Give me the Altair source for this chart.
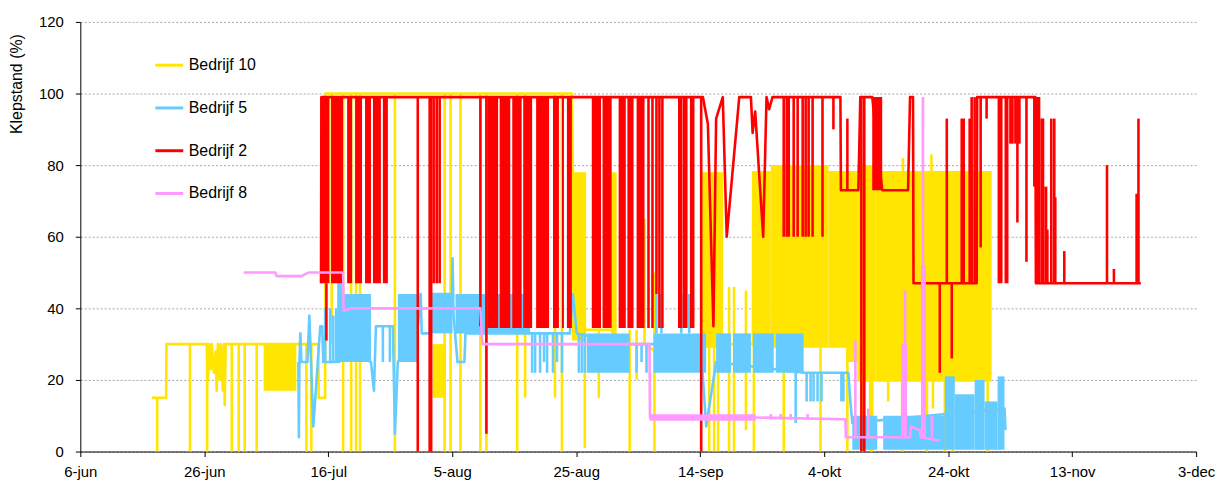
import json
import altair as alt
import pandas as pd

# ---------------- data ----------------
START = (2010, 6, 6)
END = (2010, 12, 3)
TICK_DATES = ["2010-06-06", "2010-06-26", "2010-07-16", "2010-08-05", "2010-08-25",
              "2010-09-14", "2010-10-04", "2010-10-24", "2010-11-13", "2010-12-03"]
MONTHS_NL = ["jan", "feb", "mrt", "apr", "mei", "jun", "jul", "aug", "sep", "okt", "nov", "dec"]
Y_TICKS = [0, 20, 40, 60, 80, 100, 120]
SERIES = ["Bedrijf 10", "Bedrijf 5", "Bedrijf 2", "Bedrijf 8"]
COLORS = ["#FFE500", "#66CCFF", "#FF0000", "#FF99FF"]

# (days since 6 June, valve position %)
B10_LINE = [(11.55, 15), (13.85, 15), (13.9, 30), (20.4, 30), (20.6, 20), (20.75, 30), (21.05, 23),
            (21.2, 30), (21.55, 22), (21.85, 28), (22.0, 17), (22.2, 30), (22.5, 20), (22.65, 30),
            (23.0, 17), (23.15, 30), (23.3, 13), (23.45, 30), (34.85, 30), (38.4, 30), (38.45, 15),
            (39.5, 15), (39.55, 100), (79.3, 100), (79.45, 78), (81.4, 34), (85.7, 34), (86.5, 30),
            (91.3, 30), (92.6, 28), (100.15, 30), (100.2, 78), (103.7, 30), (108.5, 30),
            (108.55, 78), (147.0, 78)]
# dense oscillation: (from day, to day, low %, high %)
B10_BANDS = [(29.57, 34.86, 17, 30), (56.84, 58.93, 15, 30), (79.30, 81.39, 31, 78),
             (85.72, 86.52, 30, 78), (100.16, 103.69, 29, 78), (108.50, 111.39, 29, 78),
             (111.39, 120.70, 29, 80), (120.70, 123.74, 29, 78), (123.74, 125.35, 25, 78),
             (125.35, 128.24, 19.5, 80), (128.24, 147.01, 19.5, 78)]
# short excursions: (day, low %, high %)
B10_DROPS = [(12.40, 0, 15), (17.70, 0, 30), (20.47, 0, 30), (24.43, 0, 30), (25.56, 0, 30),
             (26.52, 0, 30), (28.45, 0, 30), (36.47, 0, 30), (37.27, 0, 30), (40.56, 30, 100),
             (42.40, 0, 100), (43.69, 0, 100), (44.49, 0, 100), (45.13, 0, 100), (50.75, 0, 100),
             (58.77, 0, 100), (59.73, 0, 100), (61.33, 0, 100), (64.54, 0, 100), (65.51, 0, 100),
             (70.48, 0, 100), (71.76, 15, 100), (76.57, 15, 100), (77.70, 0, 100), (81.39, 1, 78),
             (83.64, 15, 34), (88.62, 0, 34), (89.74, 20, 34), (91.02, 30, 65), (92.62, 0, 50),
             (101.45, 0, 78), (102.25, 0, 78), (102.89, 0, 78), (104.65, 0, 46), (105.46, 0, 46),
             (107.38, 6, 45), (108.66, 0, 78), (113.47, 0, 78), (119.41, 0, 78), (123.74, 0, 78),
             (126.15, 0, 78), (127.43, 0, 78), (127.75, 0, 78), (130.32, 14, 78), (132.57, 0, 78),
             (132.7, 78, 82), (136.58, 0, 78), (137.3, 78, 83), (137.54, 12, 78), (139.46, 0, 78),
             (140.75, 0, 78), (146.37, 0, 78)]

B5_LINE = [(35.18, 25), (35.26, 4), (35.34, 25), (35.50, 33), (35.67, 25), (36.63, 25), (36.95, 38),
           (37.59, 7), (38.71, 35), (39.03, 35), (39.19, 25), (41.60, 25), (41.68, 58), (41.76, 25),
           (41.92, 58), (42.08, 30), (46.89, 25), (47.37, 17), (47.69, 35), (50.43, 35), (50.75, 5),
           (51.23, 25), (54.44, 35), (54.92, 44), (55.08, 33), (56.36, 33), (56.52, 44), (59.95, 44),
           (60.05, 54), (60.21, 38), (60.85, 25), (61.97, 25), (62.13, 33), (72.57, 33), (78.98, 33),
           (79.46, 44), (80.10, 33), (88.62, 30), (92.46, 30), (100.16, 28), (100.96, 7),
           (102.57, 25), (116.69, 22), (123.90, 22), (124.22, 14), (124.54, 8), (149.09, 12),
           (149.25, 6)]
B5_BANDS = [(41.60, 46.89, 25, 44), (51.23, 54.44, 25, 44), (56.52, 60.05, 33, 44),
            (60.53, 72.57, 33, 44), (81.71, 88.62, 22, 33), (92.46, 100.96, 22, 33),
            (102.57, 104.97, 22, 33), (105.29, 108.18, 22, 33), (108.50, 111.87, 22, 33),
            (112.19, 116.69, 22, 33), (124.54, 128.56, 0.5, 10), (129.52, 139.46, 0.5, 10),
            (139.46, 141.07, 0.5, 21), (141.07, 144.27, 0.5, 16), (144.27, 145.88, 0.5, 20),
            (145.88, 147.97, 0.5, 14), (147.97, 149.09, 0.5, 21)]
B5_DROPS = [(39.51, 25, 40), (40.31, 25, 40), (40.80, 25, 38), (41.28, 25, 40), (48.81, 25, 35),
            (49.94, 25, 35), (72.89, 22, 33), (73.37, 22, 33), (74.17, 22, 33), (74.81, 25, 33),
            (75.30, 22, 33), (76.25, 22, 33), (76.90, 25, 33), (77.70, 22, 33), (80.43, 22, 33),
            (80.91, 22, 33), (81.39, 22, 33), (89.74, 22, 30), (90.54, 25, 30), (91.34, 22, 30),
            (92.94, 33, 44), (93.74, 33, 44), (96.95, 33, 44), (98.23, 33, 44), (115.40, 8, 22),
            (117.17, 14, 22), (117.81, 14, 22), (118.29, 14, 22), (118.93, 14, 22),
            (119.57, 14, 22), (122.78, 14, 22), (123.10, 14, 22)]

B2_LINE = [(38.83, 47), (38.90, 99), (98.86, 99), (100.43, 99), (101.24, 91.5), (102.13, 35),
           (102.57, 93), (103.64, 99), (104.28, 60), (106.30, 99), (108.18, 99), (108.46, 89),
           (108.87, 95), (110.16, 60), (110.70, 99), (111.12, 95.6), (111.66, 99), (122.62, 99),
           (122.70, 73), (125.51, 73), (125.83, 99), (127.75, 99), (129.36, 73), (133.53, 73),
           (133.85, 99), (134.33, 99), (134.41, 47), (144.60, 47), (144.68, 99), (154.07, 99),
           (154.15, 47), (171.08, 47)]
B2_BANDS = [(38.71, 40.20, 47, 99), (40.45, 42.40, 47, 99), (43.04, 43.85, 47, 99),
            (44.33, 45.45, 47, 99), (45.93, 46.89, 47, 99), (47.21, 48.49, 47, 99),
            (48.81, 49.62, 47, 99), (65.67, 67.40, 34.5, 99), (67.65, 69.36, 34.5, 99),
            (69.68, 71.20, 34.5, 99), (71.45, 72.89, 34.5, 99), (73.53, 75.62, 34.5, 99),
            (76.25, 77.21, 34.5, 99), (77.70, 78.02, 34.5, 99), (78.50, 79.30, 34.5, 99),
            (82.51, 84.00, 34.5, 99), (84.25, 85.72, 34.5, 99), (86.84, 88.00, 34.5, 99),
            (88.25, 89.25, 34.5, 99), (89.74, 91.02, 34.5, 99),
            (127.75, 129.36, 73, 99), (147.97, 148.77, 47, 99), (149.09, 149.73, 47, 99),
            (154.07, 154.87, 47, 99), (154.87, 155.51, 47, 93), (155.51, 156.00, 47, 74)]
B2_DROPS = [(39.70, 31, 47), (54.44, 0, 99), (56.36, 0, 99), (56.60, 0, 99), (57.00, 47, 99),
            (57.49, 47, 99), (57.97, 47, 99), (64.54, 35, 99), (65.51, 5, 99), (91.66, 34.5, 99),
            (92.30, 34.5, 99), (92.94, 44, 99), (93.42, 34.5, 99), (93.90, 34.5, 99),
            (96.63, 34.5, 99), (96.95, 34.5, 99), (97.43, 34.5, 99), (97.75, 34.5, 99),
            (98.55, 34.5, 99), (98.87, 34.5, 99), (100.16, 0, 99), (113.47, 60, 99),
            (113.96, 60, 99), (114.28, 60, 99), (115.08, 60, 99), (115.72, 60, 99),
            (116.53, 60, 99), (117.01, 60, 99), (117.49, 60, 99), (118.13, 60, 99),
            (119.73, 60, 99), (121.49, 90, 99), (123.74, 73, 93), (126.00, 0, 99), (126.47, 0, 99),
            (138.65, 22, 47), (139.78, 47, 93), (140.58, 26, 47), (142.19, 47, 93),
            (142.51, 47, 93), (143.47, 47, 93), (143.79, 47, 99), (144.27, 47, 99),
            (145.24, 57, 99), (146.20, 93, 99), (150.05, 86, 99), (150.37, 86, 99),
            (150.85, 86, 99), (151.17, 64, 99), (151.49, 86, 99), (152.63, 53, 99),
            (153.90, 74, 99), (156.00, 47, 62), (156.64, 47, 93), (157.12, 47, 93),
            (157.28, 47, 71), (158.73, 47, 56), (165.62, 47, 80), (166.74, 47, 51),
            (170.40, 47, 72), (170.70, 47, 93)]

B8_LINE = [(26.36, 50), (31.49, 50), (31.65, 49), (35.67, 49), (36.79, 50), (42.40, 50),
           (42.48, 39.3), (43.69, 40), (64.54, 40), (64.86, 30), (91.82, 30), (91.90, 9.5),
           (108.98, 9.5), (123.42, 9), (123.50, 4), (133.85, 4), (134.01, 7), (135.45, 6),
           (135.61, 4), (138.65, 3)]
B8_BANDS = [(91.82, 108.98, 8.6, 10.4), (132.44, 133.37, 4, 30), (135.61, 136.42, 4, 52)]
B8_DROPS = [(111.39, 9, 10.5), (112.99, 9, 10.5), (114.60, 9, 10.5), (117.33, 9, 10.5),
            (125.03, 4, 31), (127.11, 4, 12), (133.05, 4, 45), (135.93, 4, 99), (137.38, 4, 10)]

LINES = [B10_LINE, B5_LINE, B2_LINE, B8_LINE]
BANDS = [B10_BANDS, B5_BANDS, B2_BANDS, B8_BANDS]
DROPS = [B10_DROPS, B5_DROPS, B2_DROPS, B8_DROPS]

# ---------------- chart ----------------
BASE = pd.Timestamp("%04d-%02d-%02d" % START)
FONT = "Liberation Sans, Arial, sans-serif"


def when(days):
    return BASE + pd.to_timedelta(days, unit="D")


def dt(s):
    y, m, d = (int(p) for p in s.split("-"))
    return alt.DateTime(year=y, month=m, date=d)


x_scale = alt.Scale(domain=[alt.DateTime(year=START[0], month=START[1], date=START[2]),
                            alt.DateTime(year=END[0], month=END[1], date=END[2])])
y_scale = alt.Scale(domain=[0, 120], nice=False)

label_expr = ("date(datum.value) + '-' + " + json.dumps(MONTHS_NL).replace('"', "'")
              + "[month(datum.value)]")
x_axis = alt.Axis(values=[dt(s) for s in TICK_DATES], labelExpr=label_expr, grid=False,
                  tickSize=5, labelPadding=8, labelFontSize=15, labelFont=FONT,
                  labelColor="#000", domainColor="#000", tickColor="#000", labelOverlap=False,
                  labelFlush=False)
y_axis = alt.Axis(values=Y_TICKS, grid=True, gridDash=[2, 2], gridColor="#a8a8a8",
                  tickSize=5, labelPadding=12, labelFontSize=15, labelFont=FONT,
                  labelColor="#000", domainColor="#000", tickColor="#000",
                  title="Klepstand (%)", titleFont=FONT, titleFontSize=16,
                  titleFontWeight="normal", titleColor="#000", titleAngle=270,
                  titleX=-64, titleY=62, titleAlign="center", titleBaseline="middle")

legend = alt.Legend(title=None, orient="none", legendX=74, legendY=28, direction="vertical",
                    symbolType="stroke", symbolSize=784, symbolStrokeWidth=3,
                    labelFontSize=16, labelFont=FONT, labelColor="#000", labelOffset=4,
                    rowPadding=19, padding=0)
color = alt.Color("serie:N", scale=alt.Scale(domain=SERIES, range=COLORS), legend=legend)

layers = []
for name, line, bands, drops in zip(SERIES, LINES, BANDS, DROPS):
    dl = pd.DataFrame(line, columns=["day", "v"])
    dl["t"] = when(dl["day"])
    dl["serie"] = name
    db = pd.DataFrame(bands, columns=["d1", "d2", "lo", "hi"])
    db["t1"] = when(db["d1"])
    db["t2"] = when(db["d2"])
    db["serie"] = name
    dd = pd.DataFrame(drops, columns=["day", "lo", "hi"])
    dd["t"] = when(dd["day"])
    dd["serie"] = name

    layers.append(alt.Chart(db[["t1", "t2", "lo", "hi", "serie"]]).mark_rect().encode(
        x=alt.X("t1:T", scale=x_scale, axis=x_axis, title=None),
        x2="t2:T",
        y=alt.Y("lo:Q", scale=y_scale, axis=y_axis, title="Klepstand (%)"),
        y2="hi:Q",
        color=color))
    layers.append(alt.Chart(dl[["t", "v", "serie"]]).mark_line(
        strokeWidth=2.6, strokeJoin="round", strokeCap="butt").encode(
        x=alt.X("t:T", scale=x_scale, axis=x_axis, title=None),
        y=alt.Y("v:Q", scale=y_scale, axis=y_axis, title="Klepstand (%)"),
        color=color))
    layers.append(alt.Chart(dd[["t", "lo", "hi", "serie"]]).mark_rule(strokeWidth=2.6).encode(
        x=alt.X("t:T", scale=x_scale, axis=x_axis, title=None),
        y=alt.Y("lo:Q", scale=y_scale, axis=y_axis, title="Klepstand (%)"),
        y2="hi:Q",
        color=color))

chart = alt.layer(*layers).properties(
    width=1122, height=432,
    padding={"left": 72.7, "top": 12.7, "right": 22, "bottom": 29},
    autosize=alt.AutoSizeParams(type="none"),
    background="white",
).configure_view(stroke=None)

chart.save("out.html", embed_options={"renderer": "svg", "actions": False})
